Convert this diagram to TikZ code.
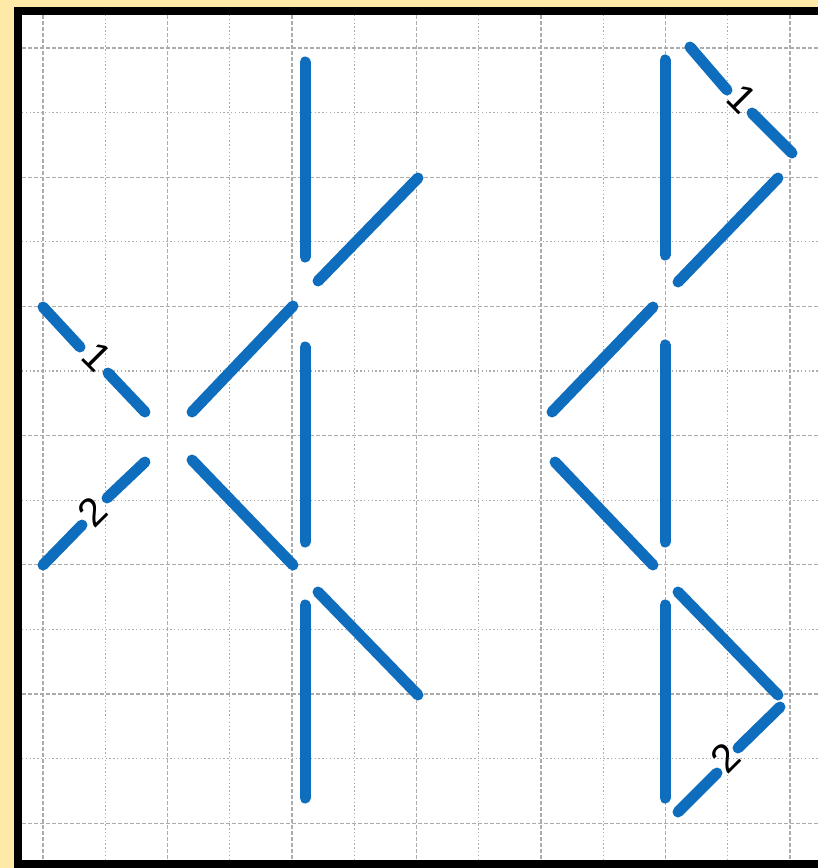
\documentclass[tikz,border=0pt]{standalone}
\usepackage{fontspec}
\setmainfont{Liberation Sans}
\definecolor{paper}{RGB}{255,233,168}
\definecolor{thread}{RGB}{14,110,189}
\definecolor{gridgray}{RGB}{172,172,172}

\begin{document}
\begin{tikzpicture}[x=1pt,y=-1pt,
    stitch/.style={line width=11pt,line cap=round,thread},
    major/.style={gridgray,line width=1.3pt,dash pattern=on 4pt off 2pt},
    minor/.style={gridgray,line width=1.3pt,dash pattern=on 1.3pt off 2.5pt},
    num/.style={font=\fontsize{40}{40}\selectfont,inner sep=0pt}
  ]
  \useasboundingbox (0,0) rectangle (818,868);
  \fill[paper] (0,0) rectangle (818,868);
  \fill[white] (18,11) rectangle (818,864);

  % grid: even lines dashed, odd lines dotted
  \foreach \k in {0,...,12}{
    \pgfmathsetmacro{\gx}{43+62.25*\k}
    \pgfmathsetmacro{\gy}{48+64.6*\k}
    \pgfmathtruncatemacro{\odd}{mod(\k,2)}
    \ifnum\odd=0
      \draw[major] (\gx,15) -- (\gx,860);
      \draw[major] (22,\gy) -- (818,\gy);
    \else
      \draw[minor] (\gx,15) -- (\gx,860);
      \draw[minor] (22,\gy) -- (818,\gy);
    \fi
  }

  % frame
  \begin{scope}
    \clip (0,0) rectangle (818,868);
    \draw[line width=8pt] (18,11) rectangle (830,864);
  \end{scope}

  % left motif
  \draw[stitch] (43,307) -- (80,347);
  \node[num,rotate=-45] (oneL) at (97,357) {1};
  \draw[stitch] (108,373) -- (145,412);
  \draw[stitch] (43,565) -- (82,525);
  \node[num,rotate=45] (twoL) at (92,512) {2};
  \draw[stitch] (107,498) -- (145,462);
  \draw[stitch] (192,412) -- (293,306);
  \draw[stitch] (192,460) -- (293,565);
  \draw[stitch] (305,62) -- (305,257);
  \draw[stitch] (305,347) -- (305,542);
  \draw[stitch] (305,605) -- (305,798);
  \draw[stitch] (318,281) -- (418,178);
  \draw[stitch] (318,592) -- (418,695);

  % right motif
  \draw[stitch] (665,60) -- (665,255);
  \draw[stitch] (665,345) -- (665,542);
  \draw[stitch] (665,605) -- (665,798);
  \draw[stitch] (690,47) -- (727,90);
  \node[num,rotate=-45] (oneR) at (742,99) {1};
  \draw[stitch] (752,113) -- (792,153);
  \draw[stitch] (678,282) -- (778,178);
  \draw[stitch] (552,412) -- (653,307);
  \draw[stitch] (555,462) -- (653,565);
  \draw[stitch] (678,592) -- (778,695);
  \draw[stitch] (678,812) -- (717,773);
  \node[num,rotate=45] (twoR) at (725,758) {2};
  \draw[stitch] (738,748) -- (780,707);
\end{tikzpicture}
\end{document}
